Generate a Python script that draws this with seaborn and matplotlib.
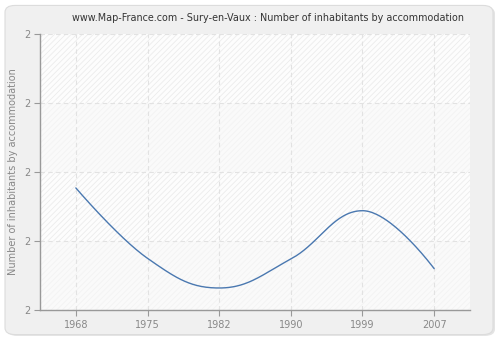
import numpy as np
import pandas as pd
import seaborn as sns
import matplotlib
matplotlib.use("Agg")
import matplotlib.pyplot as plt
from matplotlib.patches import FancyBboxPatch
from matplotlib.ticker import FuncFormatter

# Census years and average number of inhabitants per accommodation
years = [1968, 1975, 1982, 1990, 1999, 2007]
inhabitants = [2.177, 2.075, 2.032, 2.074, 2.144, 2.060]
y_ticks = [2.0, 2.1, 2.2, 2.3, 2.4]

title = "www.Map-France.com - Sury-en-Vaux : Number of inhabitants by accommodation"
y_label = "Number of inhabitants by accommodation"


def spline_curve(x, y, smoothing=1.5, n=80):
    """Smooth Bezier path through the points (control points pulled toward
    neighbours, clamped so the curve does not overshoot local extremes)."""
    x = np.asarray(x, float)
    y = np.asarray(y, float)
    k = len(x)
    left = [(x[i], y[i]) for i in range(k)]
    right = [(x[i], y[i]) for i in range(k)]
    den = smoothing + 1
    for i in range(1, k - 1):
        lx = (smoothing * x[i] + x[i - 1]) / den
        ly = (smoothing * y[i] + y[i - 1]) / den
        rx = (smoothing * x[i] + x[i + 1]) / den
        ry = (smoothing * y[i] + y[i + 1]) / den
        corr = (ry - ly) * (rx - x[i]) / (rx - lx) + y[i] - ry
        ly += corr
        ry += corr
        if ly > y[i - 1] and ly > y[i]:
            ly = max(y[i - 1], y[i]); ry = 2 * y[i] - ly
        elif ly < y[i - 1] and ly < y[i]:
            ly = min(y[i - 1], y[i]); ry = 2 * y[i] - ly
        if ry > y[i + 1] and ry > y[i]:
            ry = max(y[i + 1], y[i]); ly = 2 * y[i] - ry
        elif ry < y[i + 1] and ry < y[i]:
            ry = min(y[i + 1], y[i]); ly = 2 * y[i] - ry
        left[i] = (lx, ly)
        right[i] = (rx, ry)
    t = np.linspace(0, 1, n)[:, None]
    pts = []
    for i in range(k - 1):
        p0 = np.array([x[i], y[i]])
        p1 = np.array(right[i])
        p2 = np.array(left[i + 1])
        p3 = np.array([x[i + 1], y[i + 1]])
        seg = ((1 - t) ** 3) * p0 + 3 * ((1 - t) ** 2) * t * p1 \
            + 3 * (1 - t) * t ** 2 * p2 + t ** 3 * p3
        pts.append(seg if i == 0 else seg[1:])
    pts = np.vstack(pts)
    return pts[:, 0], pts[:, 1]


sns.set_theme(style="white")
plt.rcParams["font.family"] = ["DejaVu Sans"]
plt.rcParams["hatch.linewidth"] = 0.6

fig = plt.figure(figsize=(5.0, 3.4), dpi=100)
fig.patch.set_facecolor("white")

# rounded light-grey panel behind everything
shadow = FancyBboxPatch((0.014, 0.012), 0.976, 0.968,
                        boxstyle="round,pad=0,rounding_size=0.02",
                        transform=fig.transFigure, facecolor="#e4e4e4",
                        edgecolor="none", zorder=-3)
panel = FancyBboxPatch((0.01, 0.016), 0.976, 0.968,
                       boxstyle="round,pad=0,rounding_size=0.02",
                       transform=fig.transFigure, facecolor="#f0f0f0",
                       edgecolor="#dcdcdc", linewidth=0.8, zorder=-2)
fig.patches.extend([shadow, panel])

ax = fig.add_axes([0.08, 0.088, 0.86, 0.812])
ax.set_zorder(1)
ax.set_facecolor("white")

# census years sit on evenly spaced category slots
slots = list(range(len(years)))
x_min, x_max = -0.5, len(years) - 0.5
ax.set_xlim(x_min, x_max)
ax.set_ylim(y_ticks[0], y_ticks[-1])

# alternating hatched bands
for i in range(len(y_ticks) - 1):
    strong = (len(y_ticks) - 2 - i) % 2 == 0
    ax.fill_between([x_min, x_max], y_ticks[i], y_ticks[i + 1],
                    facecolor="#fdfdfd" if strong else "#fafafa",
                    edgecolor="#ececec" if strong else "#f3f3f3",
                    hatch="//////", linewidth=0, zorder=0)

xs, ys = spline_curve(slots, inhabitants)
curve = pd.DataFrame({"slot": xs, "value": ys})
sns.lineplot(data=curve, x="slot", y="value", ax=ax, color="#4a78b0",
             linewidth=1.0, zorder=3, sort=False)

ax.set_xticks(slots)
ax.set_xticklabels([str(y) for y in years])
ax.set_yticks(y_ticks)
ax.yaxis.set_major_formatter(FuncFormatter(lambda v, p: f"{v:.0f}"))

ax.grid(True, color="#e2e2e2", linestyle=(0, (4, 3)), linewidth=0.8, zorder=1)
ax.set_axisbelow(True)
for side in ["top", "right"]:
    ax.spines[side].set_visible(False)
for side in ["left", "bottom"]:
    ax.spines[side].set_color("#999999")
    ax.spines[side].set_linewidth(1.0)

ax.tick_params(axis="both", which="major", length=4, width=0.8,
               color="#999999", labelcolor="#888888", labelsize=7, pad=3,
               left=True, bottom=True)

ax.set_xlabel("")
ax.set_ylabel(y_label, fontsize=7, color="#888888", labelpad=4)

fig.text(0.536, 0.948, title, ha="center", va="center", fontsize=6.95,
         color="#333333")

fig.savefig("out.png", dpi=100, facecolor=fig.get_facecolor())
